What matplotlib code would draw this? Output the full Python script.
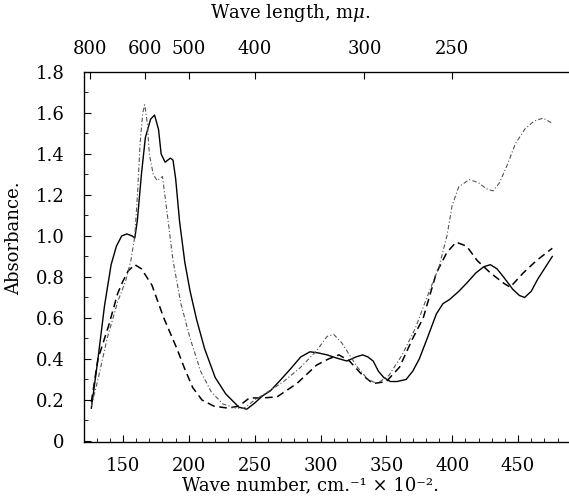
import matplotlib
matplotlib.use("Agg")
import matplotlib.pyplot as plt
from matplotlib.ticker import MultipleLocator

plt.rcParams['font.family'] = ['DejaVu Serif']
plt.rcParams['mathtext.fontset'] = 'dejavuserif'

# Solid curve
solid_x = [126, 131, 136, 141, 145, 149, 153, 157, 159, 161, 164, 167, 171, 174, 177, 179, 182, 186, 188, 190, 193, 197, 201,
           206, 212, 220, 228, 238, 244, 250, 256, 262, 270, 277, 285, 292, 298, 305, 312, 320, 327, 332, 336, 340, 344,
           348, 353, 358, 365, 370, 375, 381, 388, 393, 398, 405, 411, 418, 424, 429, 434, 439, 446, 451, 455, 460, 465,
           470, 476]
solid_y = [0.16, 0.40, 0.66, 0.86, 0.95, 1.00, 1.01, 1.00, 0.99, 1.08, 1.30, 1.48, 1.57, 1.59, 1.52, 1.40, 1.36, 1.38, 1.37, 1.28, 1.07, 0.87, 0.73,
           0.59, 0.45, 0.31, 0.23, 0.165, 0.155, 0.185, 0.22, 0.245, 0.30, 0.35, 0.41, 0.435, 0.43, 0.42, 0.405, 0.39, 0.41, 0.42, 0.41, 0.39, 0.34,
           0.31, 0.29, 0.29, 0.30, 0.34, 0.40, 0.50, 0.62, 0.67, 0.69, 0.73, 0.77, 0.82, 0.85, 0.86, 0.84, 0.80, 0.74, 0.71, 0.70, 0.73, 0.79,
           0.84, 0.90]

# Dashed curve
dashed_x = [126, 131, 139, 146, 150, 154, 159, 164, 172, 181, 191, 197, 203, 210, 219, 230, 238, 246, 256, 267, 282, 297, 306, 314,
            322, 332, 340, 350, 360, 370, 378, 388, 396, 403, 411, 419, 429, 439, 444, 454, 464, 476]
dashed_y = [0.19, 0.40, 0.56, 0.72, 0.78, 0.83, 0.86, 0.84, 0.76, 0.60, 0.45, 0.35, 0.26, 0.20, 0.17, 0.16, 0.17, 0.21, 0.21, 0.215, 0.28, 0.37, 0.40, 0.42,
            0.39, 0.32, 0.28, 0.29, 0.36, 0.50, 0.60, 0.82, 0.92, 0.97, 0.95, 0.88, 0.82, 0.77, 0.75, 0.82, 0.88, 0.94]

# Dash-dot curve
dashdot_x = [126, 131, 138, 146, 152, 156, 159, 161, 163, 165, 166.5, 168.5, 170, 173, 176, 180, 183, 188, 194, 201, 209,
             217, 226, 236, 242, 250, 260, 272, 285, 297, 305, 310, 316, 322, 328, 336, 343, 352, 362, 372, 382, 390, 396,
             400, 405, 413, 420, 426, 431, 436, 442, 448, 455, 462, 469, 476]
dashdot_y = [0.17, 0.30, 0.50, 0.68, 0.78, 0.88, 1.00, 1.20, 1.45, 1.60, 1.64, 1.55, 1.40, 1.30, 1.27, 1.29, 1.14, 0.88, 0.67, 0.50, 0.34,
             0.24, 0.18, 0.16, 0.16, 0.20, 0.24, 0.29, 0.36, 0.44, 0.51, 0.52, 0.48, 0.42, 0.36, 0.30, 0.28, 0.32, 0.42, 0.55, 0.72, 0.85, 1.00,
             1.15, 1.24, 1.275, 1.26, 1.23, 1.22, 1.26, 1.35, 1.45, 1.52, 1.56, 1.575, 1.55]

bottom_ticks = [150, 200, 250, 300, 350, 400, 450]
y_ticks = [0, 0.2, 0.4, 0.6, 0.8, 1.0, 1.2, 1.4, 1.6, 1.8]
y_labels = ["0", "0.2", "0.4", "0.6", "0.8", "1.0", "1.2", "1.4", "1.6", "1.8"]
wavelengths = [800, 600, 500, 400, 300, 250]

fig = plt.figure(figsize=(5.69, 5.0), dpi=100)
ax = fig.add_axes([0.1476, 0.116, 0.8524, 0.740])

ax.plot(solid_x, solid_y, color='black', lw=1.0, ls='-')
ax.plot(dashed_x, dashed_y, color='black', lw=1.1, ls=(0, (5, 3)))
ax.plot(dashdot_x, dashdot_y, color='#555555', lw=0.8, ls=(0, (4, 2, 1, 2)))

ax.set_xlim(120.4, 488.7)
ax.set_ylim(-0.005, 1.80)

ax.set_xticks(bottom_ticks)
ax.set_xticklabels([str(t) for t in bottom_ticks])
ax.xaxis.set_minor_locator(MultipleLocator(10))
ax.set_yticks(y_ticks)
ax.set_yticklabels(y_labels)
ax.yaxis.set_minor_locator(MultipleLocator(0.1))

ax.tick_params(axis='both', which='major', direction='in', labelsize=13, length=5, width=0.8)
ax.tick_params(axis='both', which='minor', direction='in', length=3, width=0.6)
ax.tick_params(axis='x', which='major', pad=11)
ax.tick_params(axis='y', which='major', pad=14)
ax.spines['right'].set_visible(False)
for s in ['left', 'bottom', 'top']:
    ax.spines[s].set_linewidth(0.9)

ax.set_xlabel("Wave number, cm.⁻¹ × 10⁻².", fontsize=13)
ax.xaxis.set_label_coords(0.468, -0.093)
ax.set_ylabel("Absorbance.", fontsize=13)
ax.yaxis.set_label_coords(-0.125, 0.55)

ax2 = ax.twiny()
ax2.set_xlim(ax.get_xlim())
ax2.set_xticks([1e5 / w for w in wavelengths])
ax2.set_xticklabels([str(w) for w in wavelengths])
ax2.tick_params(axis='x', which='major', direction='in', labelsize=13, length=5, width=0.8, pad=10)
ax2.spines['right'].set_visible(False)
ax2.set_xlabel("Wave length, m$\\mu$.", fontsize=13)
ax2.xaxis.set_label_coords(0.425, 1.145)

fig.savefig("out.png", dpi=100)
